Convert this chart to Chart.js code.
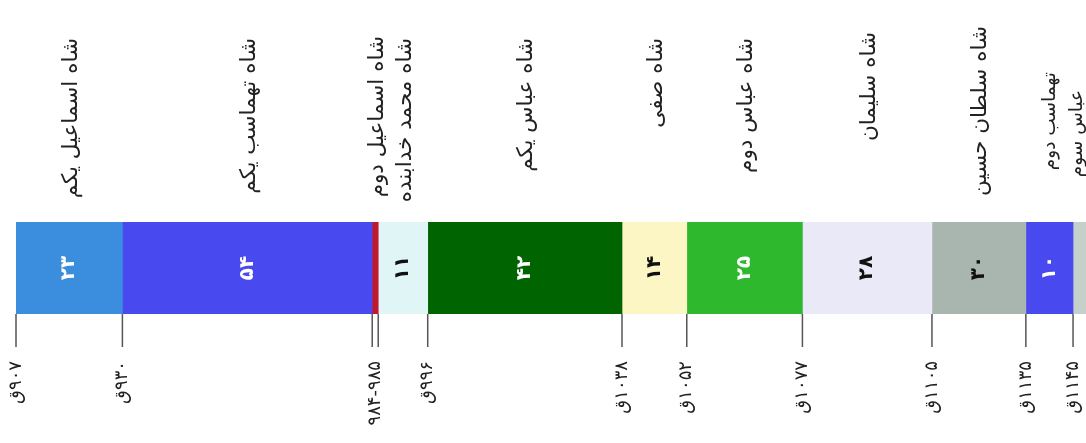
<!DOCTYPE html>
<html><head><meta charset="utf-8">
<script src="https://cdn.jsdelivr.net/npm/chart.js@4.4.1/dist/chart.umd.min.js"></script>
<style>html,body{margin:0;padding:0;background:#fff;overflow:hidden}</style>
</head><body><canvas id="c" width="1086" height="443"></canvas>
<script>
// ---- data ----
const rulers = ['شاه اسماعیل یکم','شاه تهماسب یکم','شاه اسماعیل دوم','شاه محمد خدابنده','شاه عباس یکم','شاه صفی','شاه عباس دوم','شاه سلیمان','شاه سلطان حسین','تهماسب دوم','عباس سوم'];
const spanYears = [23, 54, 1.3, 10.7, 42, 14, 25, 28, 20.3, 10.2, 3];
const reignLabels = ['۲۳','۵۴','','۱۱','۴۲','۱۴','۲۵','۲۸','۳۰','۱۰',''];
const boundaryLabels = ['۹۰۷ق','۹۳۰ق','۹۸۴-۹۸۵',null,'۹۹۶ق','۱۰۳۸ق','۱۰۵۲ق','۱۰۷۷ق','۱۱۰۵ق','۱۱۳۵ق','۱۱۴۵ق'];

// ---- styles ----
const colors = ['#3b8ede','#4949f0','#c0182c','#e0f6f6','#006400','#fbf6c4','#2eb82e','#e9e9f8','#a9b5af','#4949f0','#c5d0cb'];
const innerTextColors = ['#fff','#fff','#fff','#111','#fff','#111','#fff','#111','#111','#fff','#111'];
const nameTop = [38,38,36,38,38,38,38,32,26,72,90];
const nameDx = [2,2,2,2,2,2,2,2,2,1,-3];
const nameSize = [21.5,21.5,21.5,21.5,21.5,21.5,21.5,21.5,21.5,18.5,18.5];
const FONT = '"DejaVu Sans", sans-serif';

const starts = [];
spanYears.reduce((a, v, i) => { starts[i] = a; return a + v; }, 0);

const labelsPlugin = {
  id: 'timelineLabels',
  afterDatasetsDraw(chart) {
    const ctx = chart.ctx, xs = chart.scales.x, area = chart.chartArea;
    const midY = (area.top + area.bottom) / 2;
    ctx.save();
    // ruler names above bar
    ctx.fillStyle = '#222';
    ctx.textBaseline = 'middle';
    rulers.forEach((name, i) => {
      const cx = (xs.getPixelForValue(starts[i]) + xs.getPixelForValue(starts[i] + spanYears[i])) / 2;
      ctx.save();
      ctx.font = nameSize[i] + 'px ' + FONT;
      ctx.translate(cx + nameDx[i], nameTop[i]);
      ctx.rotate(-Math.PI / 2);
      ctx.direction = 'rtl';
      ctx.textAlign = 'right';
      ctx.fillText(name, 0, 0);
      ctx.restore();
    });
    // reign lengths inside bar
    ctx.font = 'bold 20px ' + FONT;
    reignLabels.forEach((t, i) => {
      if (!t) return;
      const cx = (xs.getPixelForValue(starts[i]) + xs.getPixelForValue(starts[i] + spanYears[i])) / 2;
      ctx.save();
      ctx.translate(cx, midY);
      ctx.rotate(-Math.PI / 2);
      ctx.textAlign = 'center';
      ctx.fillStyle = innerTextColors[i];
      ctx.fillText(t, 0, 0);
      ctx.restore();
    });
    // boundary ticks and year labels
    ctx.strokeStyle = '#555';
    ctx.lineWidth = 1.5;
    ctx.font = '18px ' + FONT;
    ctx.fillStyle = '#222';
    boundaryLabels.forEach((t, i) => {
      const x = xs.getPixelForValue(starts[i]);
      ctx.beginPath();
      ctx.moveTo(x, area.bottom);
      ctx.lineTo(x, area.bottom + 33);
      ctx.stroke();
      if (t === null) return;
      let lx = x;
      if (boundaryLabels[i + 1] === null) lx = (x + xs.getPixelForValue(starts[i + 1])) / 2;
      ctx.save();
      ctx.translate(lx, area.bottom + 47);
      ctx.rotate(-Math.PI / 2);
      ctx.direction = 'rtl';
      ctx.textAlign = 'right';
      ctx.fillText(t, 0, 0);
      ctx.restore();
    });
    ctx.restore();
  }
};

new Chart(document.getElementById('c'), {
  type: 'bar',
  data: {
    labels: [''],
    datasets: rulers.map((r, i) => ({
      label: r,
      data: [spanYears[i]],
      backgroundColor: colors[i],
      borderWidth: 0,
      barPercentage: 1,
      categoryPercentage: 1,
      stack: 'reign'
    }))
  },
  options: {
    indexAxis: 'y',
    responsive: false,
    animation: false,
    layout: { padding: { left: 16, right: 0, top: 222, bottom: 129 } },
    scales: {
      x: { stacked: true, min: 0, max: 231.3, display: false },
      y: { stacked: true, display: false }
    },
    plugins: { legend: { display: false }, tooltip: { enabled: false } }
  },
  plugins: [labelsPlugin]
});
</script>
</body></html>
